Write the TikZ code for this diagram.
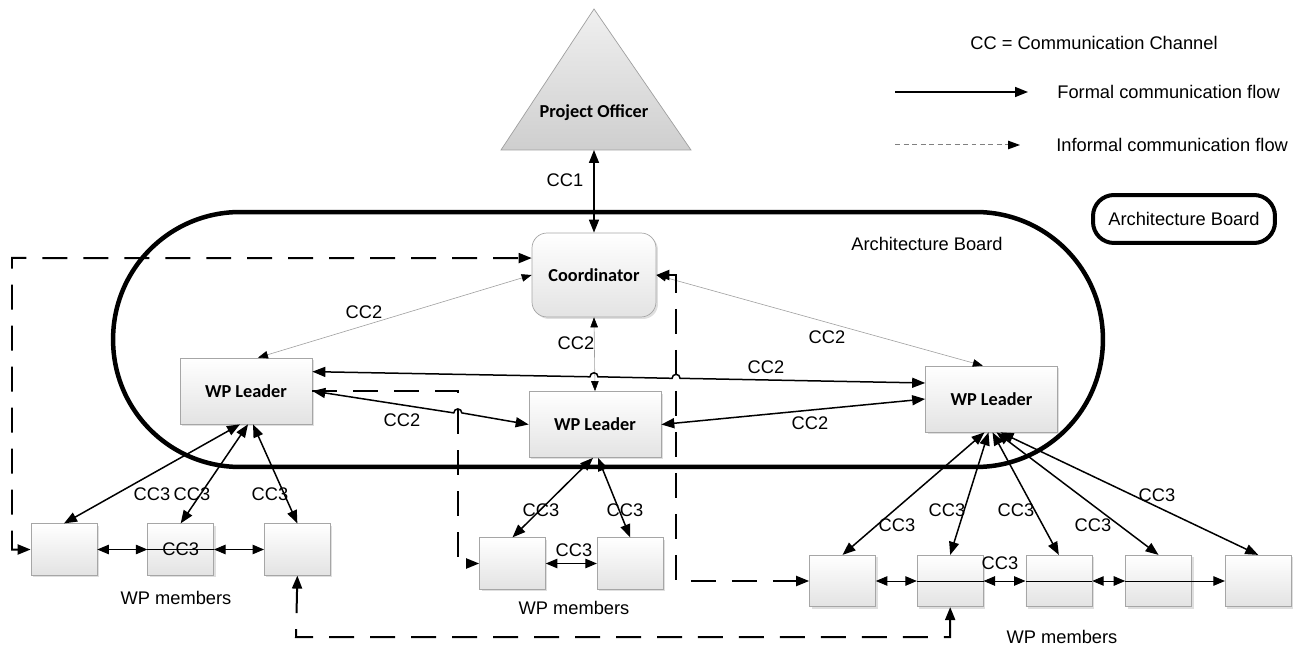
\documentclass[tikz,border=0pt]{standalone}
\usepackage{fontspec}
\setmainfont{Liberation Sans}
\newfontfamily\boxfont{Carlito}
\usetikzlibrary{arrows.meta, positioning, calc, shadows}
\tikzset{
    orgdiagram/.style={x=0.02cm, y=-0.02cm, font=\fontsize{10.4}{12}\selectfont,
        >={Triangle[length=0.26cm, width=0.2cm]}},
    box/.style={draw=gray!70, top color=white, bottom color=gray!22, inner sep=0pt,
        drop shadow={opacity=0.25, shadow xshift=0.04cm, shadow yshift=-0.04cm}},
    leader/.style={box, minimum width=2.64cm, minimum height=1.32cm,
        font=\boxfont\bfseries\fontsize{10.4}{12}\selectfont},
    coordbox/.style={leader, rounded corners=0.3cm, minimum width=2.48cm, minimum height=1.68cm},
    member/.style={box, minimum width=1.32cm, minimum height=1.03cm},
    officer/.style={draw=gray!75, top color=gray!12, bottom color=gray!38},
    board/.style={draw, line width=0.09cm, rounded corners=2.54cm,
        minimum width=19.8cm, minimum height=5.1cm},
    legendbox/.style={draw, line width=0.08cm, rounded corners=0.42cm,
        minimum width=3.64cm, minimum height=0.96cm},
    formal/.style={line width=0.03cm},
    soft/.style={draw=gray!75, line width=0.012cm,
        >={Triangle[color=black, length=0.2cm, width=0.15cm]}},
    small/.style={line width=0.02cm, >={Triangle[length=0.23cm, width=0.19cm]}},
    informal/.style={line width=0.04cm, dash pattern=on 0.5cm off 0.32cm},
    legtext/.style={anchor=west, inner sep=0pt},
}

\begin{document}
\begin{tikzpicture}[orgdiagram]
    \useasboundingbox (0,0) rectangle (1302,648);

    % project officer on top
    \draw[officer] (594,9) -- (691,150) -- (501,150) -- cycle;
    \coordinate (pob) at (594,150);
    \node[font=\boxfont\bfseries\fontsize{10.4}{12}\selectfont] (po) at (594,113) {Project Officer};

    % architecture board
    \node[board] (ab) at (608,339.5) {};
    \node (abl) at (927,244) {Architecture Board};

    % nodes inside the board
    \node[coordbox] (coord) at (594,275)   {Coordinator};
    \node[leader]   (lwp)   at (246,391)   {WP Leader};
    \node[leader]   (mwp)   at (595,424.5) {WP Leader};
    \node[leader]   (rwp)   at (991.5,399) {WP Leader};

    % WP members
    \node[member]                     (lm1) at (64,549.5) {};
    \node[member, right=1cm of lm1]   (lm2) {};
    \node[member, right=1cm of lm2]   (lm3) {};
    \node[member]                     (mm1) at (512.5,563.5) {};
    \node[member, right=1.02cm of mm1] (mm2) {};
    \node[member]                     (rm1) at (842.5,581) {};
    \node[member, right=0.82cm of rm1] (rm2) {};
    \node[member, right=0.84cm of rm2] (rm3) {};
    \node[member, right=0.66cm of rm3] (rm4) {};
    \node[member, right=0.66cm of rm4] (rm5) {};
    \node (lwpm) at (176,598)  {WP members};
    \node (mwpm) at (574,608)  {WP members};
    \node (rwpm) at (1062,637) {WP members};

    % CC1
    \draw[formal,<->] (coord.north) -- (pob);
    \node (cc1) at (565,180) {CC1};

    % CC2, coordinator to leaders
    \draw[soft,<->] (coord.west) -- ($(lwp.north)!0.18!(lwp.north east)$);
    \draw[soft,<->] (coord.east) -- ($(rwp.north)!0.13!(rwp.north west)$);
    \draw[soft,<->] (coord.south) -- (mwp.north);
    \node at (364,312) {CC2};
    \node at (827,337) {CC2};
    \node at (576,343) {CC2};

    % CC2, leader to leader
    \coordinate (l4a) at ($(lwp.east)!0.58!(lwp.north east)$);
    \coordinate (l4b) at ($(rwp.west)!0.48!(rwp.north west)$);
    \draw[formal,<->] (l4a) -- ($(l4a)!0.453!(l4b)$) arc[start angle=180, end angle=0, radius=0.08cm]
        -- ($(l4a)!0.587!(l4b)$) arc[start angle=180, end angle=0, radius=0.08cm] -- (l4b);
    \draw[formal,<->] (lwp.east) -- ($(lwp.east)!0.654!(mwp.west)$)
        arc[start angle=180, end angle=0, radius=0.08cm] -- (mwp.west);
    \draw[formal,<->] (mwp.east) -- (rwp.west);
    \node at (766,367) {CC2};
    \node at (402,420) {CC2};
    \node at (810,423) {CC2};

    % CC3, leaders to members
    \draw[formal,<->] ([xshift=-0.12cm]lwp.south) -- (lm1.north);
    \draw[formal,<->] ([xshift=0.04cm]lwp.south) -- (lm2.north);
    \draw[formal,<->] ([xshift=0.14cm]lwp.south) -- (lm3.north);
    \node at (152,494) {CC3};
    \node at (192,494) {CC3};
    \node at (270,494) {CC3};
    \draw[formal,<->] ([xshift=-0.04cm]mwp.south) -- (mm1.north);
    \draw[formal,<->] ([xshift=0.06cm]mwp.south) -- (mm2.north);
    \node at (541,510) {CC3};
    \node at (625,510) {CC3};
    \draw[formal,<->] ([xshift=-0.14cm]rwp.south) -- (rm1.north);
    \draw[formal,<->] ([xshift=-0.06cm]rwp.south) -- (rm2.north);
    \draw[formal,<->] ([xshift=0.02cm]rwp.south) -- (rm3.north);
    \draw[formal,<->] ([xshift=0.1cm]rwp.south) -- (rm4.north);
    \draw[formal,<->] ([xshift=0.18cm]rwp.south) -- (rm5.north);
    \node at (897,525)  {CC3};
    \node at (947,510)  {CC3};
    \node at (1016,510) {CC3};
    \node at (1093,525) {CC3};
    \node at (1157,495) {CC3};

    % CC3, member to member
    \draw[small,<->] (lm1) -- (lm2);
    \draw[small,<->] (lm2) -- (lm3);
    \draw[small] (lm2.west) -- (lm2.east);
    \node at (lm2) {CC3};
    \draw[small,<->] (mm1) -- (mm2);
    \node at (574,550) {CC3};
    \draw[small,<->] (rm1) -- (rm2);
    \draw[small,<->] (rm2) -- (rm3);
    \draw[small,<->] (rm3) -- (rm4);
    \draw[small,->] (rm4) -- (rm5);
    \foreach \m in {rm2,rm3,rm4}
        \draw[small] (\m.west) -- (\m.east);
    \node at (1000,563) {CC3};

    % informal flows
    \draw[informal,<->] (lm1.west) -- (12,549.5) -- (12,258) -- ($(coord.north west)!0.3!(coord.south west)$);
    \draw[informal,->] (lwp.east) -- (458,391) |- (mm1.west);
    \draw[informal,<->] (coord.east) -- (676,275) |- (rm1.west);
    \draw[informal,<->] (lm3.south) -- (296,637) -| (rm2.south);

    % legend
    \node (lgcc) at (1094,43) {CC = Communication Channel};
    \coordinate (lgfa) at (895,92);
    \coordinate (lgfb) at (1028,92);
    \draw[formal,->] (lgfa) -- (lgfb);
    \node[legtext] (lgf) at (1057,92) {Formal communication flow};
    \coordinate (lgia) at (895,145);
    \coordinate (lgib) at (1020,145);
    \draw[gray, line width=0.02cm, dash pattern=on 0.1cm off 0.07cm,
        -{Triangle[color=black, length=0.24cm, width=0.17cm]}] (lgia) -- (lgib);
    \node[legtext] (lgi) at (1056,145) {Informal communication flow};
    \node[legendbox] (lgb) at (1184,219) {Architecture Board};
\end{tikzpicture}
\end{document}
